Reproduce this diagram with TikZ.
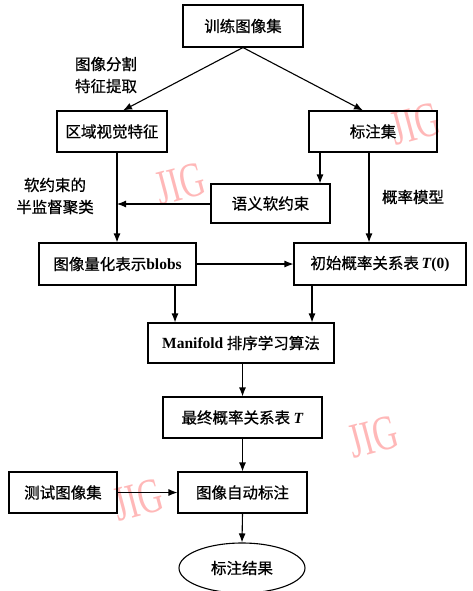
\documentclass[tikz,border=0pt]{standalone}
\usepackage{fontspec}
\setmainfont{Liberation Serif}
\newfontfamily\cjk[FakeBold=0.8]{Noto Sans CJK SC}
\usetikzlibrary{arrows.meta,shapes.geometric}
\definecolor{wm}{rgb}{1,0.72,0.72}
\tikzset{
  box/.style={draw,line width=1.1pt,rectangle,inner sep=0pt,font=\cjk\fontsize{15.5}{20}\selectfont},
  lbl/.style={align=center,inner sep=0pt,font=\cjk\fontsize{15.5}{22}\selectfont},
  arr/.style={line width=1.1pt,-{Latex[length=9pt,width=7pt]}},
  wmark/.style={text=wm,font=\rmfamily\fontsize{34}{34}\selectfont,rotate=15,yscale=1.45,inner sep=0pt}
}
\newcommand{\lat}[1]{{\rmfamily\bfseries #1}}
\begin{document}
\begin{tikzpicture}[x=1pt,y=-1pt]
\useasboundingbox (0,0) rectangle (472,591);
% watermarks
\node[wmark] (w1) at (180,184) {JIG};
\node[wmark] (w2) at (415,124) {JIG};
\node[wmark] (w3) at (373,437) {JIG};
\node[wmark] (w4) at (138,500) {JIG};
% boxes
\node[box,minimum width=120pt,minimum height=42pt] (train) at (243,26) {训练图像集};
\node[box,minimum width=110pt,minimum height=41pt] (region) at (112,131.5) {区域视觉特征};
\node[box,minimum width=128pt,minimum height=41pt] (label) at (373,131.5) {标注集};
\node[box,minimum width=119pt,minimum height=39pt] (sem) at (270.5,203.5) {语义软约束};
\node[box,minimum width=157pt,minimum height=42pt] (blobs) at (117.5,264) {图像量化表示\lat{blobs}};
\node[box,minimum width=172pt,minimum height=42pt] (init) at (380,264) {初始概率关系表\,\lat{\textit{T}(0)}};
\node[box,minimum width=186pt,minimum height=40pt] (mani) at (241,343) {\lat{Manifold} 排序学习算法};
\node[box,minimum width=159pt,minimum height=41pt] (final) at (242.5,417.5) {最终概率关系表 \lat{\textit{T}}};
\node[box,minimum width=129pt,minimum height=41pt] (auto) at (242.5,492.5) {图像自动标注};
\node[box,minimum width=108pt,minimum height=41pt] (test) at (63,492.5) {测试图像集};
\node[box,ellipse,minimum width=126pt,minimum height=50pt] (result) at (242,568) {标注结果};
% labels
\node[lbl] (l1) at (106,75) {图像分割\\特征提取};
\node[lbl] (l2) at (55,196) {软约束的\\半监督聚类};
\node[lbl] (l3) at (413,197) {概率模型};
% connectors
\draw[arr] (train.south) -- ([xshift=11pt]region.north);
\draw[arr] (train.south) -- ([xshift=-10pt]label.north);
\draw[arr] (label.south -| 320,0) -- (sem.north -| 320,0);
\draw[arr] (label.south -| 369,0) -- (init.north -| 369,0);
\draw[arr] (region.south -| 117,0) -- (blobs.north -| 117,0);
\coordinate (j) at (117,204);
\draw[arr] (sem.west |- j) -- (j);
\draw[arr] (blobs.east) -- (init.west);
\draw[arr] (blobs.south -| 175,0) -- (mani.north -| 175,0);
\draw[arr] (init.south -| 312,0) -- (mani.north -| 312,0);
\draw[arr] (mani.south -| final.north) -- (final.north);
\draw[arr] (final.south) -- (auto.north);
\draw[arr] (test.east) -- (auto.west);
\draw[arr] (auto.south) -- (result.north);
\end{tikzpicture}
\end{document}
